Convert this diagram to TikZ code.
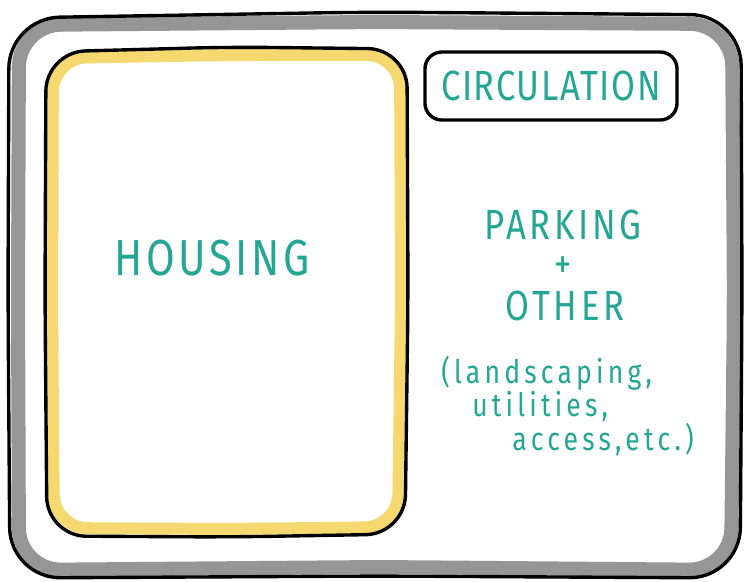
\documentclass[tikz,border=0pt]{standalone}
\usepackage{fontspec}
\setmainfont{Fira Sans}[FakeStretch=0.82,LetterSpace=4]
\usepackage{xcolor}
\usepackage{tikz}
\usetikzlibrary{positioning}
\definecolor{framegray}{RGB}{150,150,150}
\definecolor{housingyellow}{RGB}{246,216,112}
\definecolor{labelteal}{RGB}{36,166,148}
\tikzset{
  inkline/.style={black,line width=2.4pt,line join=round},
  caps/.style={text=labelteal,font=\fontsize{30}{30}\selectfont\addfontfeatures{LetterSpace=9},inner sep=0pt},
  smalltext/.style={text=labelteal,font=\fontsize{23}{23}\selectfont\addfontfeatures{LetterSpace=13},inner sep=0pt}
}
\begin{document}
\begin{tikzpicture}[x=0.025cm,y=-0.025cm]
\useasboundingbox (0,0) rectangle (744,581);
% outer frame: grey band with an ink outline
\draw[framegray,line width=10pt,rounded corners=30pt] (19,25) -- (370,22) -- (732,24) -- (734,300) -- (731,570) -- (380,567) -- (19,570) -- (18,300) -- cycle;
\draw[inkline,rounded corners=36pt] (9,18) -- (370,12) -- (741,15) -- (742,300) -- (740,578) -- (380,576) -- (10,578) -- (8,300) -- cycle;
% housing block
\draw[housingyellow,line width=8.5pt,rounded corners=24pt] (53,58) -- (230,55) -- (400,55) -- (401,300) -- (398,527) -- (230,529) -- (54,528) -- (52,300) -- cycle;
\draw[inkline,rounded corners=28pt] (46,52) -- (230,47) -- (407,49) -- (408,300) -- (405,534) -- (230,537) -- (47,536) -- (45,300) -- cycle;
\node[caps,font=\fontsize{36}{36}\selectfont\addfontfeatures{LetterSpace=7}] (housing) at (212,258) {HOUSING};
% circulation tag
\node[caps,font=\fontsize{30}{30}\selectfont,draw=black,line width=2.4pt,rounded corners=12pt,minimum width=6.3cm,minimum height=1.7cm] (circulation) at (551,86) {CIRCULATION};
% remaining uses
\node[caps] (parking) at (563,225) {PARKING};
\node[caps] (plus) at (563,268) {+};
\node[caps] (other) at (565,306) {OTHER};
\node[smalltext,anchor=west] (landscaping) at (441,373) {(landscaping,};
\node[smalltext,anchor=west] (utilities) at (472,407) {utilities,};
\node[smalltext,anchor=west] (access) at (512,440) {access,etc.)};
\end{tikzpicture}
\end{document}
